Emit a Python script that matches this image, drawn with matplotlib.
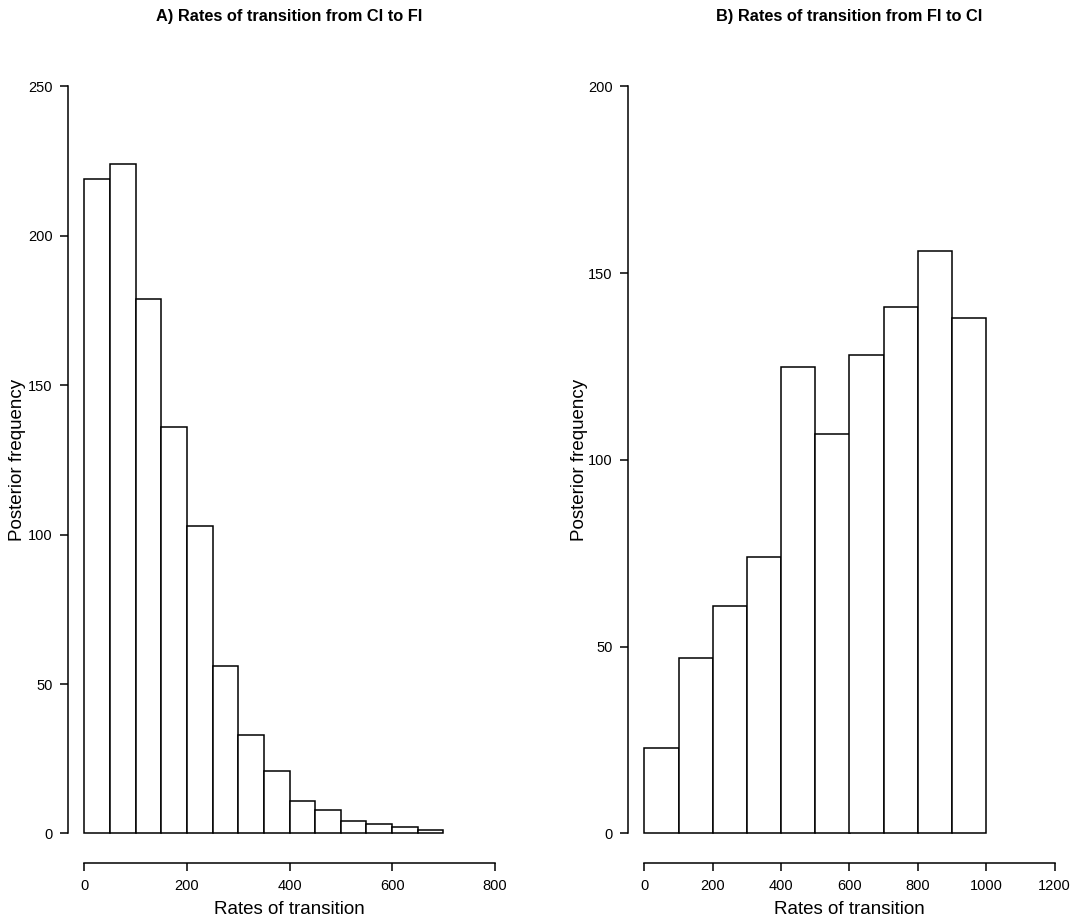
import matplotlib
matplotlib.use("Agg")
import matplotlib.pyplot as plt
import numpy as np

plt.rcParams['font.family'] = ['Liberation Sans', 'DejaVu Sans']

# Panel A: histogram of transition rates CI -> FI
breaks_a = [0, 50, 100, 150, 200, 250, 300, 350, 400, 450, 500, 550, 600, 650, 700]
counts_a = [219, 224, 179, 136, 103, 56, 33, 21, 11, 8, 4, 3, 2, 1]
xticks_a = [0, 200, 400, 600, 800]
yticks_a = [0, 50, 100, 150, 200, 250]

# Panel B: histogram of transition rates FI -> CI
breaks_b = [0, 100, 200, 300, 400, 500, 600, 700, 800, 900, 1000]
counts_b = [23, 47, 61, 74, 125, 107, 128, 141, 156, 138]
xticks_b = [0, 200, 400, 600, 800, 1000, 1200]
yticks_b = [0, 50, 100, 150, 200]

title_a = "A) Rates of transition from CI to FI"
title_b = "B) Rates of transition from FI to CI"
xlabel = "Rates of transition"
ylabel = "Posterior frequency"

W, H = 1082, 924
fig = plt.figure(figsize=(W / 100, H / 100), dpi=100)

ax_bottom = (H - 863.3) / H
ax_height = (863.3 - 56.5) / H
ax_width = 443.2 / W
ax_a = fig.add_axes([67.9 / W, ax_bottom, ax_width, ax_height])
ax_b = fig.add_axes([627.9 / W, ax_bottom, ax_width, ax_height])


def draw(ax, breaks, counts, xticks, yticks, title):
    edges = np.asarray(breaks, dtype=float)
    ax.bar(edges[:-1], counts, width=np.diff(edges), align='edge',
           facecolor='white', edgecolor='black', linewidth=1.1)
    xr = xticks[-1] - xticks[0]
    yr = yticks[-1] - yticks[0]
    ax.set_xlim(xticks[0] - 0.04 * xr, xticks[-1] + 0.04 * xr)
    ax.set_ylim(yticks[0] - 0.04 * yr, yticks[-1] + 0.04 * yr)
    ax.set_xticks(xticks)
    ax.set_yticks(yticks)
    ax.set_xticklabels([str(v) for v in xticks])
    ax.set_yticklabels([str(v) for v in yticks])
    for s in ('top', 'right'):
        ax.spines[s].set_visible(False)
    ax.spines['left'].set_bounds(yticks[0], yticks[-1])
    ax.spines['bottom'].set_bounds(xticks[0], xticks[-1])
    for s in ('left', 'bottom'):
        ax.spines[s].set_linewidth(1.1)
    ax.tick_params(axis='both', direction='out', length=6, width=1.1,
                   labelsize=10.5, pad=5, colors='black')
    ax.set_facecolor('white')
    ax.patch.set_visible(False)


draw(ax_a, breaks_a, counts_a, xticks_a, yticks_a, title_a)
draw(ax_b, breaks_b, counts_b, xticks_b, yticks_b, title_b)

# Titles and labels placed in figure pixel coordinates
def ftext(x, y, s, **kw):
    fig.text(x / W, 1 - y / H, s, ha='center', va='center', **kw)

ftext(289.5, 17, title_a, fontsize=11.8, fontweight='bold')
ftext(849.5, 17, title_b, fontsize=11.8, fontweight='bold')
ftext(289.5, 909, xlabel, fontsize=13.5)
ftext(849.5, 909, xlabel, fontsize=13.5)
ftext(18, 460, ylabel, fontsize=13.5, rotation=90)
ftext(580, 460, ylabel, fontsize=13.5, rotation=90)

fig.savefig("out.png", dpi=100, facecolor='white')
